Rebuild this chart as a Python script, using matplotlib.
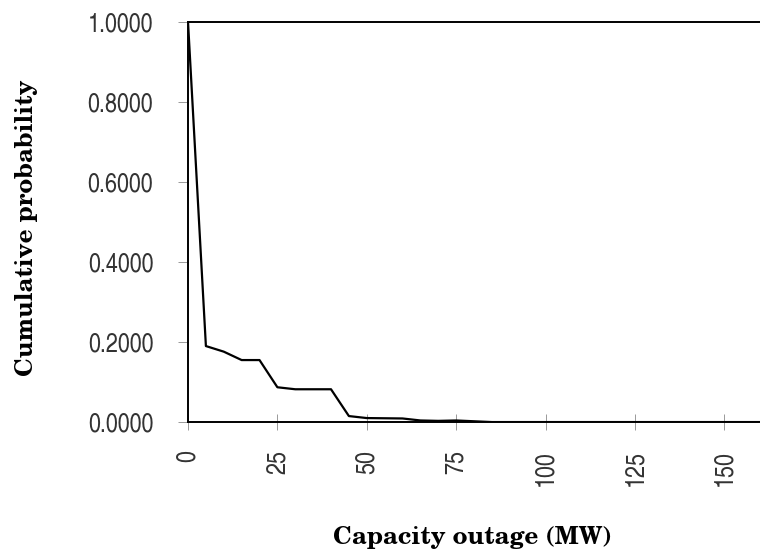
import matplotlib.pyplot as plt

# Capacity outage probability table (cumulative)
outage_mw = [0, 5, 10, 15, 20, 25, 30, 40, 45, 50, 60, 65, 70, 75, 80, 85, 100, 125, 150, 160]
cum_prob = [1.0, 0.19, 0.176, 0.155, 0.155, 0.087, 0.082, 0.082, 0.015, 0.01,
            0.009, 0.004, 0.003, 0.004, 0.002, 0.0, 0.0, 0.0, 0.0, 0.0]

x_ticks = [0, 25, 50, 75, 100, 125, 150]
y_ticks = [0.0, 0.2, 0.4, 0.6, 0.8, 1.0]

tick_font = ['TeX Gyre Heros Cn', 'Liberation Sans']
label_font = ['TeX Gyre Schola', 'DejaVu Serif']

fig = plt.figure(figsize=(7.6, 5.51), dpi=100)
ax = fig.add_axes([0.2474, 0.234, 0.7526, 0.726])

ax.plot(outage_mw, cum_prob, color='black', linewidth=1.6)

ax.set_xlim(0, 160)
ax.set_ylim(0, 1.0)
ax.set_xticks(x_ticks)
ax.set_yticks(y_ticks)
ax.set_xticklabels([str(v) for v in x_ticks], rotation=90, family=tick_font,
                   fontsize=19, color='#333333')
ax.set_yticklabels([f'{v:.4f}' for v in y_ticks], family=tick_font,
                   fontsize=19, color='#333333')
ax.tick_params(axis='x', direction='inout', length=12, width=0.7, color='#999999', pad=14)
ax.tick_params(axis='y', direction='out', length=7, width=0.7, color='#999999', pad=18)

for side in ax.spines.values():
    side.set_linewidth(1.4)
ax.spines['right'].set_visible(False)

ax.set_xlabel('Capacity outage (MW)', family=label_font, fontweight='bold',
              fontsize=17.5, va='center')
ax.set_ylabel('Cumulative probability', family=label_font, fontweight='bold',
              fontsize=17.5, va='center')
ax.xaxis.set_label_coords(0.498, -0.2875)
ax.yaxis.set_label_coords(-0.283, 0.485)

fig.savefig('out.png', dpi=100)
